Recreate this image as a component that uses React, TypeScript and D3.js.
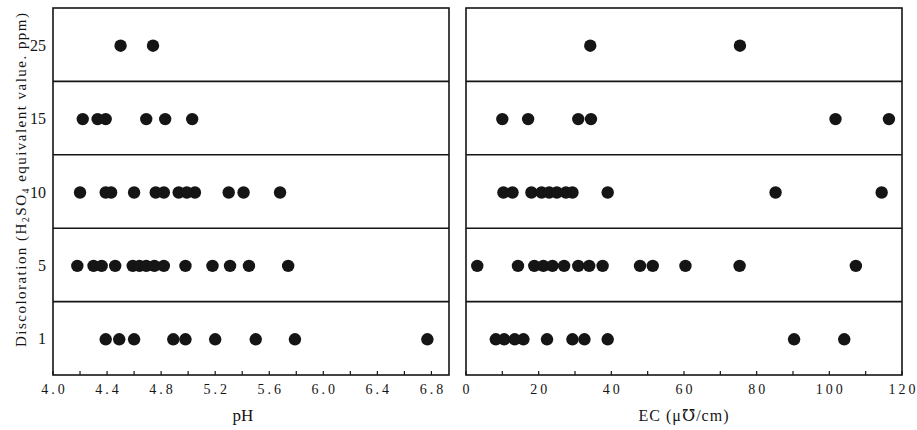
import React from "react";
import * as d3 from "d3";

const levels = ["25", "15", "10", "5", "1"];

const ph25 = [4.5, 4.74];
const ph15 = [4.22, 4.33, 4.39, 4.69, 4.83, 5.03];
const ph10 = [4.2, 4.39, 4.43, 4.6, 4.76, 4.82, 4.93, 4.99, 5.05, 5.3, 5.41, 5.68];
const ph5 = [4.18, 4.3, 4.36, 4.46, 4.59, 4.64, 4.69, 4.75, 4.82, 4.98, 5.18, 5.31, 5.45, 5.74];
const ph1 = [4.39, 4.49, 4.6, 4.89, 4.98, 5.2, 5.5, 5.79, 6.77];

const ec25 = [34.2, 75.4];
const ec15 = [10.0, 17.1, 30.9, 34.4, 101.7, 116.4];
const ec10 = [10.3, 12.8, 18.0, 20.8, 22.9, 25.0, 27.5, 29.3, 39.0, 85.2, 114.4];
const ec5 = [3.1, 14.3, 18.8, 21.3, 23.8, 27.0, 30.9, 33.9, 37.6, 47.9, 51.4, 60.4, 75.3, 107.3];
const ec1 = [8.2, 10.5, 13.4, 15.8, 22.3, 29.3, 32.6, 39.0, 90.3, 104.1];

const phTicks = [4.0, 4.2, 4.4, 4.6, 4.8, 5.0, 5.2, 5.4, 5.6, 5.8, 6.0, 6.2, 6.4, 6.6, 6.8];
const phLabels = ["4.0", "4.4", "4.8", "5.2", "5.6", "6.0", "6.4", "6.8"];
const ecTicks = [0, 10, 20, 30, 40, 50, 60, 70, 80, 90, 100, 110, 120];
const ecLabels = ["0", "20", "40", "60", "80", "100", "120"];

const phSeries = [ph25, ph15, ph10, ph5, ph1];
const ecSeries = [ec25, ec15, ec10, ec5, ec1];

const FONT = "'Liberation Serif', 'DejaVu Serif', serif";
const INK = "#151515";

export default function App() {
  const top = 8;
  const bottom = 375;
  const y = d3.scaleBand<string>().domain(levels).range([top, bottom]);
  const xPh = d3.scaleLinear().domain([4.0, 6.93]).range([53, 449]);
  const xEc = d3.scaleLinear().domain([0, 120]).range([466, 902]);

  const panel = (
    x: d3.ScaleLinear<number, number>,
    series: number[][],
    ticks: number[],
    labels: string[],
    key: string
  ) => {
    const [x0, x1] = x.range();
    return (
      <g key={key}>
        <rect x={x0} y={top} width={x1 - x0} height={bottom - top} fill="none" stroke={INK} strokeWidth={1.6} />
        {levels.slice(1).map((l) => (
          <line key={l} x1={x0} x2={x1} y1={y(l)!} y2={y(l)!} stroke={INK} strokeWidth={1.6} />
        ))}
        {ticks.map((t) => (
          <line key={"t" + t} x1={x(t)} x2={x(t)} y1={bottom} y2={bottom - 4} stroke={INK} strokeWidth={1.2} />
        ))}
        {labels.map((lb) => (
          <text
            key={"l" + lb}
            x={x(parseFloat(lb)) + 1.5}
            y={394}
            textAnchor="middle"
            fontFamily={FONT}
            fontSize={14}
            letterSpacing={3}
            fill={INK}
          >
            {lb}
          </text>
        ))}
        {series.map((vals, i) =>
          vals.map((v, j) => (
            <circle
              key={i + "-" + j}
              cx={x(v)}
              cy={y(levels[i])! + y.bandwidth() / 2 + 1}
              r={6.2}
              fill={INK}
            />
          ))
        )}
      </g>
    );
  };

  return (
    <svg
      width={917}
      height={430}
      style={{ position: "absolute", left: 0, top: 0, background: "#fff" }}
    >
      <rect x={0} y={0} width={917} height={430} fill="#fff" />
      {panel(xPh, phSeries, phTicks, phLabels, "ph")}
      {panel(xEc, ecSeries, ecTicks, ecLabels, "ec")}
      {levels.map((l) => (
        <text
          key={"y" + l}
          x={46}
          y={y(l)! + y.bandwidth() / 2 + 6}
          textAnchor="end"
          fontFamily={FONT}
          fontSize={16}
          fill={INK}
        >
          {l}
        </text>
      ))}
      <text
        transform="translate(26,180) rotate(-90)"
        textAnchor="middle"
        fontFamily={FONT}
        fontSize={15}
        fill={INK}
        textLength={334}
        lengthAdjust="spacing"
      >
        Discoloration (H<tspan fontSize={10} dy={3}>2</tspan>
        <tspan dy={-3}>SO</tspan>
        <tspan fontSize={10} dy={3}>4</tspan>
        <tspan dy={-3}> equivalent value. ppm)</tspan>
      </text>
      <text x={243} y={421} textAnchor="middle" fontFamily={FONT} fontSize={17} fill={INK}>
        pH
      </text>
      <text x={684} y={421} textAnchor="middle" fontFamily={FONT} fontSize={16} letterSpacing={1} fill={INK}>
        EC (μ℧/cm)
      </text>
    </svg>
  );
}
